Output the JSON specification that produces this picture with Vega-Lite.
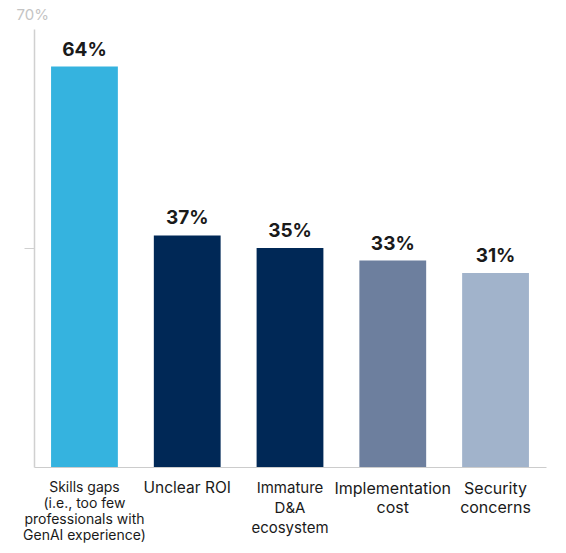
{
  "$schema": "https://vega.github.io/schema/vega-lite/v6.json",
  "width": 512,
  "height": 438,
  "autosize": {"type": "none"},
  "padding": {"left": 34, "top": 29, "right": 20, "bottom": 86},
  "background": "white",
  "config": {"view": {"stroke": null}, "font": "Inter"},
  "data": {
    "values": [
      {"cat": "Skills gaps|(i.e., too few|professionals with|GenAI experience)", "value": 0.64},
      {"cat": "Unclear ROI", "value": 0.37},
      {"cat": "Immature|D&A|ecosystem", "value": 0.35},
      {"cat": "Implementation|cost", "value": 0.33},
      {"cat": "Security|concerns", "value": 0.31}
    ]
  },
  "encoding": {
    "x": {
      "field": "cat",
      "type": "nominal",
      "sort": null,
      "scale": {"paddingInner": 0.35, "paddingOuter": 0.166},
      "axis": {
        "title": null,
        "ticks": false,
        "labelAngle": 0,
        "labelExpr": "split(datum.label, '|')",
        "labelFont": "Inter",
        "labelFontSize": {"condition": [
          {"test": "indexof(datum.value, 'Skills') == 0", "value": 14},
          {"test": "indexof(datum.value, 'Immature') == 0", "value": 15},
          {"test": "indexof(datum.value, 'Unclear') == 0", "value": 15.5}
        ], "value": 16},
        "labelLineHeight": {"expr": "indexof(datum.value, 'Skills') == 0 ? 16 : indexof(datum.value, 'Immature') == 0 ? 20 : 19"},
        "labelColor": "#1a1a1a",
        "labelBaseline": "top",
        "labelPadding": 13,
        "labelLimit": 0,
        "domainColor": "#cccccc",
        "domainWidth": 1
      }
    },
    "y": {
      "field": "value",
      "type": "quantitative",
      "scale": {"domain": [0, 0.7], "nice": false},
      "axis": {
        "title": null,
        "values": [0.35, 0.7],
        "format": ".0%",
        "labelExpr": "datum.value > 0.69 ? datum.label : ''",
        "grid": false,
        "tickSize": 10,
        "tickColor": "#d0d0d0",
        "tickOpacity": {"condition": {"test": "datum.value > 0.69", "value": 0}, "value": 1},
        "domainColor": "#d0d0d0",
        "domainWidth": 1.5,
        "labelAlign": "left",
        "labelBaseline": "middle",
        "labelPadding": 8,
        "labelOffset": -15,
        "labelColor": "#c4c4c4",
        "labelFontSize": 15,
        "labelFont": "Inter"
      }
    }
  },
  "layer": [
    {
      "mark": {"type": "bar"},
      "encoding": {
        "color": {
          "field": "cat",
          "type": "nominal",
          "legend": null,
          "scale": {
            "domain": [
              "Skills gaps|(i.e., too few|professionals with|GenAI experience)",
              "Unclear ROI",
              "Immature|D&A|ecosystem",
              "Implementation|cost",
              "Security|concerns"
            ],
            "range": ["#35B3DF", "#002856", "#002856", "#6D7F9E", "#A1B3CB"]
          }
        }
      }
    },
    {
      "mark": {"type": "text", "dy": -11, "baseline": "alphabetic", "fontSize": 19, "fontWeight": "bold", "font": "Inter", "color": "#1a1a1a"},
      "encoding": {
        "text": {"field": "value", "type": "quantitative", "format": ".0%"}
      }
    }
  ]
}
